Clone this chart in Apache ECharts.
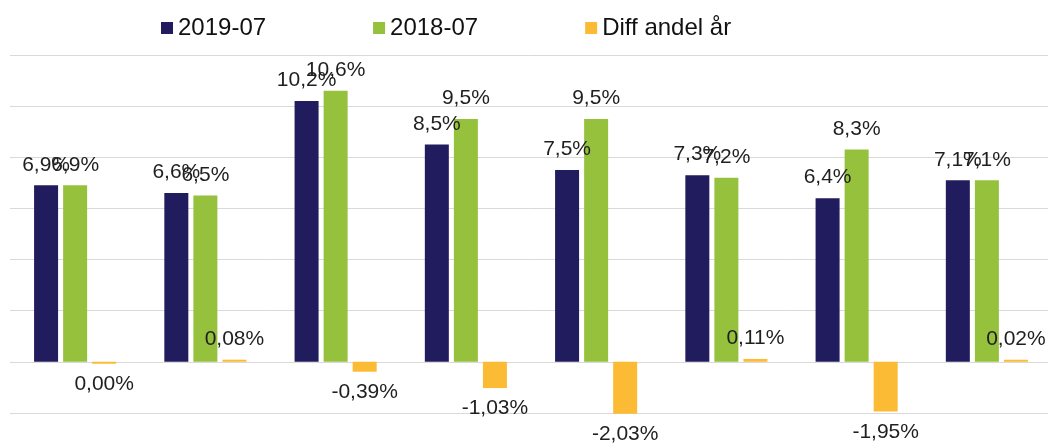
<!DOCTYPE html>
<html>
<head>
<meta charset="UTF-8">
<title></title>
<script src="https://cdn.jsdelivr.net/npm/echarts@6/dist/echarts.min.js"></script>
<style>
  html, body { margin: 0; padding: 0; background: #fff; }
</style>
</head>
<body>
<div id="main" style="width:1048px;height:446px"></div>
<script>
// categories have no visible labels in the original
var categories = ['1', '2', '3', '4', '5', '6', '7', '8'];
var values2019 = [6.9, 6.6, 10.2, 8.5, 7.5, 7.3, 6.4, 7.1];
var values2018 = [6.9, 6.5, 10.6, 9.5, 9.5, 7.2, 8.3, 7.1];
var diffValues = [-0.004, 0.08, -0.39, -1.03, -2.03, 0.11, -1.95, 0.02];
var seriesNames = ['2019-07', '2018-07', 'Diff andel år'];

var font = 'Liberation Sans, Arial, sans-serif';

function pct1(p) { return p.value.toFixed(1).replace('.', ',') + '%'; }
function pct2(p) {
    var v = Math.round(p.value * 100) / 100;
    return v.toFixed(2).replace('.', ',') + '%';
}

var labelBase = {
    show: true,
    position: 'top',
    distance: 10,
    color: '#1f1f1f',
    fontFamily: font,
    fontSize: 21
};

var myChart = echarts.init(document.getElementById('main'));
var option = {
    animation: false,
    legend: {
        left: 156,
        top: 11,
        icon: 'rect',
        itemWidth: 12,
        itemHeight: 12,
        itemGap: 107,
        textStyle: { fontFamily: font, fontSize: 24, color: '#111' },
        data: seriesNames
    },
    // the -4 gridline sits below the visible area, as in the original
    grid: { left: 10, width: 1042, top: 55, height: 409, outerBoundsMode: 'none' },
    xAxis: {
        type: 'category',
        data: categories,
        axisLine: { show: false },
        axisTick: { show: false },
        axisLabel: { show: false }
    },
    yAxis: {
        type: 'value',
        min: -4,
        max: 12,
        interval: 2,
        axisLabel: { show: false },
        axisLine: { show: false },
        axisTick: { show: false },
        splitLine: { lineStyle: { color: '#d9d9d9', width: 1 } }
    },
    series: [{
        name: seriesNames[0],
        type: 'bar',
        barWidth: 24,
        barGap: '21%',
        itemStyle: { color: '#211c5e' },
        label: Object.assign({}, labelBase, { formatter: pct1 }),
        data: values2019
    }, {
        name: seriesNames[1],
        type: 'bar',
        barWidth: 24,
        barGap: '21%',
        itemStyle: { color: '#95c13d' },
        label: Object.assign({}, labelBase, { formatter: pct1 }),
        data: values2018
    }, {
        name: seriesNames[2],
        type: 'bar',
        barWidth: 24,
        barGap: '21%',
        barMinHeight: 2,
        itemStyle: { color: '#fbbb34' },
        label: Object.assign({}, labelBase, { formatter: pct2 }),
        data: diffValues.map(function (v) {
            return { value: v, label: { position: v < 0 ? 'bottom' : 'top' } };
        })
    }]
};
myChart.setOption(option);
</script>
</body>
</html>
